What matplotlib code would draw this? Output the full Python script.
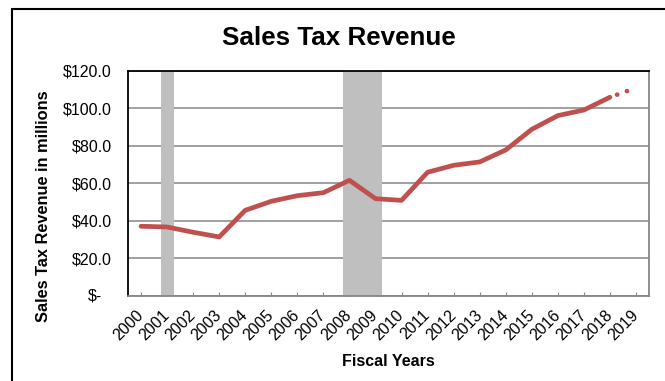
import matplotlib.pyplot as plt
from matplotlib.patches import Rectangle
import matplotlib.transforms as mtransforms

plt.rcParams["font.family"] = ["Liberation Sans", "DejaVu Sans"]

years = list(range(2000, 2020))
year_labels = [str(y) for y in years]

# actual revenue, $ millions (FY2000-FY2018)
actual_years = list(range(2000, 2019))
revenue = [37.2, 36.8, 34.0, 31.5, 45.7, 50.5, 53.5, 55.1, 61.7, 51.9,
           51.0, 66.0, 69.7, 71.5, 77.9, 88.9, 96.2, 99.2, 106.0]

# projection
proj_years = [2018, 2019]
proj_revenue = [106.0, 111.0]

# recession bands (fiscal year positions)
recessions = [(2000.75, 2001.25), (2007.75, 2009.25)]

y_ticks = [0, 20, 40, 60, 80, 100, 120]

RED = "#C0504D"
GRID = "#868686"
BAND = "#BFBFBF"
FS = 11.5

fig = plt.figure(figsize=(6.65, 3.81), dpi=100)
ax = fig.add_axes([0.1925, 0.2231, 0.7835, 0.5906])

def to_x(y):
    return y - years[0]

for a, b in recessions:
    ax.axvspan(to_x(a), to_x(b), color=BAND, lw=0, zorder=2)

ax.plot([to_x(y) for y in actual_years], revenue, color=RED, lw=3.4,
        solid_capstyle="round", solid_joinstyle="round", zorder=3)
ax.plot([to_x(y) for y in proj_years], proj_revenue, color=RED, lw=3.4,
        linestyle=(0.6, (0.01, 2.2)), dash_capstyle="round", zorder=3)

ax.set_xlim(-0.5, len(years) - 0.5)
ax.set_ylim(0, 120)
ax.set_yticks(y_ticks)
ax.set_yticklabels([f"${v:.1f}" if v else "" for v in y_ticks], fontsize=FS)
ax.text(-0.05, 0, "$-", transform=mtransforms.blended_transform_factory(ax.transAxes, ax.transData),
        ha="right", va="center", fontsize=FS)
ax.tick_params(axis="y", length=0, pad=11.5)
ax.yaxis.grid(True, color=GRID, lw=1.1, zorder=1)
ax.set_axisbelow(True)

ax.set_xticks(range(len(years)))
ax.set_xticklabels(year_labels, rotation=45, ha="right", va="center",
                   rotation_mode="anchor", fontsize=FS)
ax.tick_params(axis="x", direction="in", length=3, color=GRID, pad=12)

for side in ["top", "left"]:
    ax.spines[side].set_color("black")
    ax.spines[side].set_linewidth(1.3)
for side in ["right", "bottom"]:
    ax.spines[side].set_color(GRID)
    ax.spines[side].set_linewidth(1.3)

ax.set_xlabel("Fiscal Years", fontsize=FS, fontweight="bold", labelpad=8)
ax.set_ylabel("Sales Tax Revenue in millions", fontsize=11.8, fontweight="bold")
ax.yaxis.set_label_coords(-0.148, 0.40)

fig.text(0.51, 0.9, "Sales Tax Revenue", ha="center", va="center",
         fontsize=18.7, fontweight="bold")

# outer chart frame (runs off the right and bottom edges)
fig.patches.append(Rectangle((0.018, -0.1), 1.2, 1.076, transform=fig.transFigure,
                             fill=False, edgecolor="black", lw=1.5, zorder=0))

fig.savefig("out.png", dpi=100)
